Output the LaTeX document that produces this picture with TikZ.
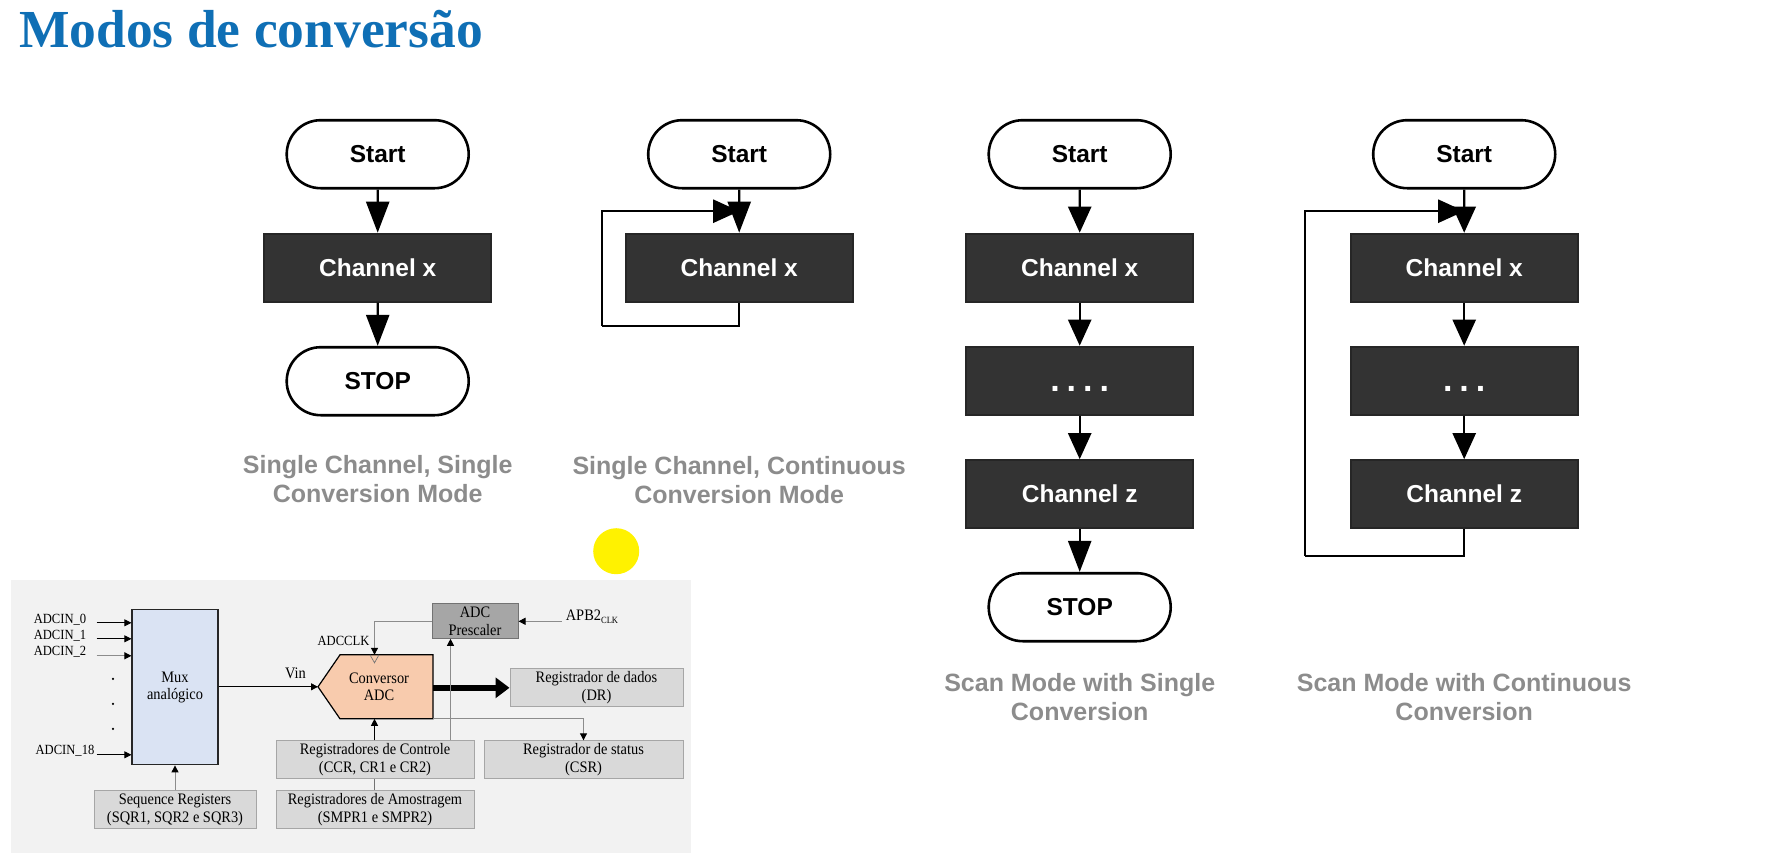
\documentclass[tikz,border=0pt]{standalone}
\usepackage{fontspec}
\setmainfont{Liberation Sans}
\newfontfamily\titlefont{Liberation Serif}
\newfontfamily\panelfont[FakeStretch=0.9]{Liberation Serif}
\usetikzlibrary{shapes,arrows.meta}
\definecolor{titleblue}{HTML}{0F6FB5}
\definecolor{captiongray}{HTML}{8C8C8C}
\definecolor{darkbox}{HTML}{333333}
\definecolor{muxblue}{HTML}{DAE3F3}
\definecolor{adcpeach}{HTML}{F8CBAD}
\definecolor{reggray}{HTML}{D9D9D9}
\definecolor{panelgray}{HTML}{F2F2F2}
\definecolor{scalergray}{HTML}{A6A6A6}
\newcommand{\fourdots}{\vphantom{Channel}\raisebox{-4pt}{\fontsize{34}{34}\selectfont .\kern7pt.\kern7pt.\kern7pt.}}
\newcommand{\threedots}{\vphantom{Channel}\raisebox{-4pt}{\fontsize{34}{34}\selectfont .\kern7pt.\kern7pt.}}
\tikzset{
  capsule/.style={rounded rectangle,draw=black,line width=2.6pt,fill=white,inner sep=0pt,
    minimum width=182pt,minimum height=68pt,font=\fontsize{24.5}{28}\selectfont\bfseries},
  chanbox/.style={rectangle,draw=black!85,line width=2pt,fill=darkbox,text=white,inner sep=0pt,
    minimum width=227pt,minimum height=68pt,font=\fontsize{24.5}{28}\selectfont\bfseries},
  caption/.style={align=center,text=captiongray,font=\fontsize{25}{29.5}\selectfont\bfseries},
  flowarrow/.style={-{Triangle[length=31pt,width=23pt]},line width=2.4pt},
  scanarrow/.style={-{Triangle[length=26pt,width=23pt]},line width=2.4pt},
  loopline/.style={line width=2.4pt,line join=miter},
  regbox/.style={rectangle,draw=scalergray,line width=1pt,fill=reggray,inner sep=0pt,align=center,
    minimum height=38pt,font=\panelfont\fontsize{16}{17.5}\selectfont},
  paneltext/.style={inner sep=0pt,align=center,font=\panelfont\fontsize{16}{17.5}\selectfont},
  pinlabel/.style={inner sep=0pt,font=\panelfont\fontsize{14}{16}\selectfont},
  thinarrow/.style={-{Triangle[length=7pt,width=7pt]},line width=0.8pt},
  grayarrow/.style={-{Triangle[length=7pt,width=7pt,color=black]},line width=1pt,draw=black!45},
}
\begin{document}
\begin{tikzpicture}[x=1pt,y=-1pt]
    \useasboundingbox (0,0) rectangle (1770,862);
    \node[anchor=base west,inner sep=0pt,text=titleblue,font=\titlefont\fontsize{53.5}{60}\selectfont\bfseries] (title) at (19,47) {Modos de conversão};
    \begin{scope}[xshift=1.2pt,yshift=-1.2pt]
    % single channel, single conversion
    \node[capsule] (startA) at (376.5,153) {Start};
    \node[chanbox] (chanA) at (376.5,266.5) {Channel x};
    \node[capsule] (stopA) at (376.5,380) {STOP};
    \draw[flowarrow] (startA) -- (chanA);
    \draw[flowarrow] (chanA) -- (stopA);
    \node[caption] (capA) at (376.5,478) {Single Channel, Single\\Conversion Mode};
    % single channel, continuous conversion
    \node[capsule] (startB) at (738,153) {Start};
    \node[chanbox] (chanB) at (738,266.5) {Channel x};
    \coordinate (cornerB) at (601,324.5);
    \coordinate (joinB) at (738,210);
    \draw[flowarrow] (startB) -- (chanB);
    \draw[loopline] (chanB.south) |- (cornerB);
    \draw[scanarrow] (cornerB) |- (joinB);
    \node[caption] (capB) at (738,479) {Single Channel, Continuous\\Conversion Mode};
    % scan mode, single conversion
    \node[capsule] (startC) at (1078.5,153) {Start};
    \node[chanbox] (chanCx) at (1078.5,266.5) {Channel x};
    \node[chanbox] (chanCd) at (1078.5,379.5) {\fourdots};
    \node[chanbox] (chanCz) at (1078.5,493) {Channel z};
    \node[capsule] (stopC) at (1078.5,606) {STOP};
    \draw[scanarrow] (startC) -- (chanCx);
    \draw[scanarrow] (chanCx) -- (chanCd);
    \draw[scanarrow] (chanCd) -- (chanCz);
    \draw[flowarrow] (chanCz) -- (stopC);
    \node[caption] (capC) at (1078.5,696) {Scan Mode with Single\\Conversion};
    % scan mode, continuous conversion
    \node[capsule] (startD) at (1463,153) {Start};
    \node[chanbox] (chanDx) at (1463,266.5) {Channel x};
    \node[chanbox] (chanDd) at (1463,379.5) {\threedots};
    \node[chanbox] (chanDz) at (1463,493) {Channel z};
    \coordinate (cornerD) at (1304,554.5);
    \coordinate (joinD) at (1463,210);
    \draw[scanarrow] (startD) -- (chanDx);
    \draw[scanarrow] (chanDx) -- (chanDd);
    \draw[scanarrow] (chanDd) -- (chanDz);
    \draw[loopline] (chanDz.south) |- (cornerD);
    \draw[scanarrow] (cornerD) |- (joinD);
    \node[caption] (capD) at (1463,696) {Scan Mode with Continuous\\Conversion};
    % pointer
    \fill[yellow] (615,550) circle (23);
    \end{scope}
    % block diagram panel
    \begin{scope}[yshift=-1.8pt]
    \fill[panelgray] (11,578) rectangle (691,851);
    \node[rectangle,draw=black!85,line width=1.2pt,fill=muxblue,minimum width=86pt,minimum height=155pt,inner sep=0pt,
      paneltext] (mux) at (175,685.5) {Mux\\analógico};
    \node[pinlabel] (in0) at (60,618) {ADCIN\_0};
    \node[pinlabel] (in1) at (60,634) {ADCIN\_1};
    \node[pinlabel] (in2) at (60,650) {ADCIN\_2};
    \node[pinlabel] (in18) at (65,749) {ADCIN\_18};
    \coordinate (a0) at (96.5,621);
    \coordinate (a1) at (96.5,637);
    \coordinate (a2) at (96.5,654);
    \coordinate (a18) at (96.5,753);
    \draw[thinarrow] (a0) -- (a0 -| mux.west);
    \draw[thinarrow] (a1) -- (a1 -| mux.west);
    \draw[grayarrow] (a2) -- (a2 -| mux.west);
    \draw[thinarrow] (a18) -- (a18 -| mux.west);
    \fill (113,677) circle (1.2);
    \fill (113,702) circle (1.2);
    \fill (113,727) circle (1.2);
    % conversor
    \coordinate (adctip) at (318,685);
    \coordinate (adctop) at (374.5,653);
    \coordinate (adcbot) at (374.5,717);
    \draw[fill=adcpeach,line width=1.2pt] (adctip) -- (340,653) -- (433,653) -- (433,717) -- (340,717) -- cycle;
    \draw[black!55,line width=0.7pt] (370,653) -- (374.5,661) -- (379,653);
    \node[paneltext] (adc) at (379,685) {Conversor\\ADC};
    \node[paneltext] (vin) at (295.5,672) {Vin};
    \draw[thinarrow] (mux.east |- adctip) -- (adctip);
    % registers
    \node[regbox,minimum width=173pt] (dados) at (596.5,686) {Registrador de dados\\(DR)};
    \node[regbox,minimum width=198pt] (ctrl) at (375,758) {Registradores de Controle\\(CCR, CR1 e CR2)};
    \node[regbox,minimum width=199pt] (status) at (583.5,758) {Registrador de status\\(CSR)};
    \node[regbox,minimum width=162pt] (seq) at (175,808) {Sequence Registers\\(SQR1, SQR2 e SQR3)};
    \node[regbox,minimum width=198pt] (amos) at (375,808) {Registradores de Amostragem\\(SMPR1 e SMPR2)};
    \node[regbox,draw=black!55,fill=scalergray,minimum width=86pt,minimum height=35pt] (presc) at (475,619.5) {ADC\\Prescaler};
    \node[paneltext] (apb) at (592,615) {APB2\raisebox{-3pt}{\fontsize{9.5}{10}\selectfont CLK}};
    \node[pinlabel] (clk) at (343.5,639) {ADCCLK};
    \coordinate (apbin) at (561.5,619.5);
    \coordinate (adcout) at (433,686);
    \coordinate (adcstat) at (433,716.5);
    \coordinate (prescin) at (450.5,637);
    \draw[-{Triangle[length=14pt,width=20pt]},line width=5.5pt] (adcout) -- (dados.west |- adcout);
    \draw[grayarrow] (seq) -- (mux);
    \draw[grayarrow] (presc.west) -| (adctop);
    \draw[grayarrow] (apbin) -- (presc.east);
    \draw[grayarrow] (ctrl.north -| prescin) -- (prescin);
    \draw[thinarrow] (ctrl.north -| adcbot) -- (adcbot);
    \draw[black!55,line width=1pt] (ctrl.south -| adcbot) -- (amos.north -| adcbot);
    \draw[grayarrow] (adcstat) -| (status.north);
    \end{scope}
\end{tikzpicture}
\end{document}
